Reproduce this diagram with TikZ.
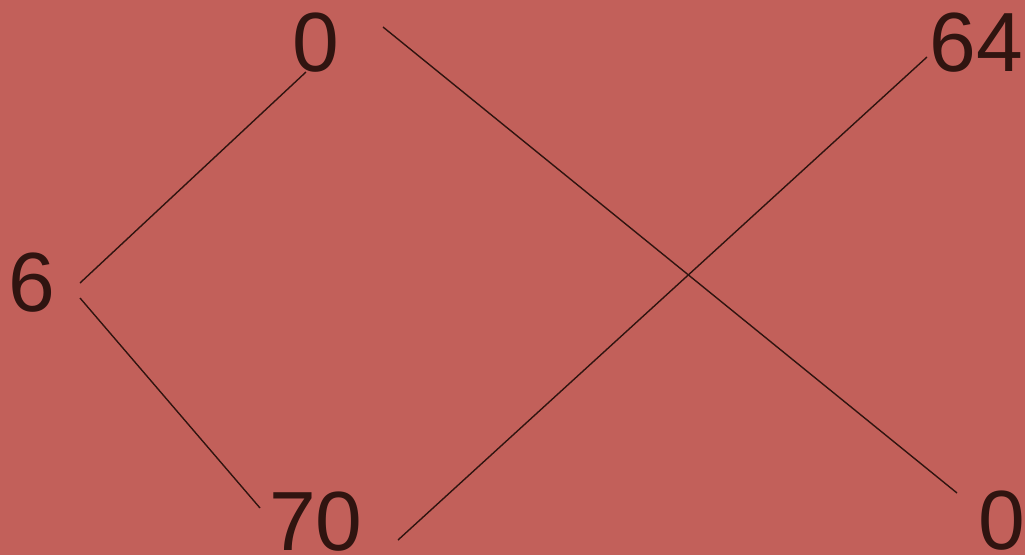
\documentclass[tikz,border=0pt]{standalone}
\usepackage{fontspec}
\setmainfont{Liberation Sans}
\definecolor{bg}{RGB}{194,96,90}
\definecolor{ink}{RGB}{48,20,16}
\tikzset{
  num/.style={anchor=base, inner sep=0pt, text=ink, font=\fontsize{84}{84}\selectfont},
  link/.style={draw=ink, line width=1.4pt}
}
\begin{document}
\begin{tikzpicture}[x=1pt,y=-1pt]
\fill[bg] (0,0) rectangle (1025,555);
\useasboundingbox (0,0) rectangle (1025,555);
\node[num] (zt) at (316,71) {0};
\node[num] (sf) at (976.5,71) {64};
\node[num] (si) at (32,311) {6};
\node[num] (sv) at (316,550) {70};
\node[num] (zb) at (1002,549) {0};
% connector ends
\coordinate (si-a) at (80,283);
\coordinate (zt-a) at (306,72);
\coordinate (si-b) at (80,298);
\coordinate (sv-a) at (260,508);
\coordinate (zt-b) at (383,27);
\coordinate (zb-a) at (957,493);
\coordinate (sv-b) at (398,540);
\coordinate (sf-a) at (927,57);
\draw[link] (si-a) -- (zt-a);
\draw[link] (si-b) -- (sv-a);
\draw[link] (zt-b) -- (zb-a);
\draw[link] (sv-b) -- (sf-a);
\end{tikzpicture}
\end{document}
